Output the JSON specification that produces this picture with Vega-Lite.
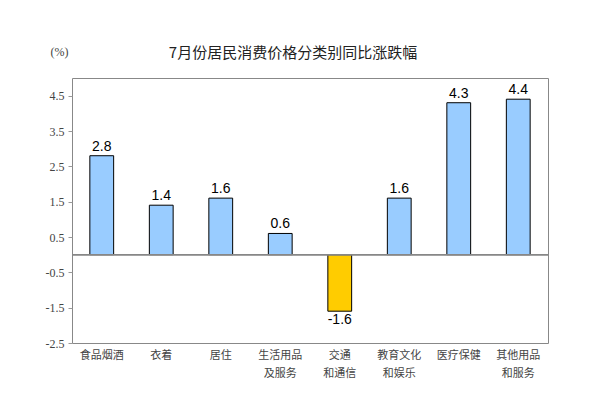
{
  "$schema": "https://vega.github.io/schema/vega-lite/v6.json",
  "width": 476,
  "height": 265,
  "autosize": {"type": "none"},
  "padding": {"left": 72, "top": 78, "right": 52, "bottom": 54},
  "background": "white",
  "title": {
    "text": "7月份居民消费价格分类别同比涨跌幅",
    "anchor": "middle",
    "dx": -17,
    "offset": -16,
    "fontSize": 15,
    "fontWeight": "normal",
    "font": "Noto Sans CJK SC",
    "color": "#222"
  },
  "config": {
    "view": {"stroke": "#888", "strokeWidth": 1}
  },
  "data": {
    "values": [
      {"cat": "食品烟酒", "v": 2.8},
      {"cat": "衣着", "v": 1.4},
      {"cat": "居住", "v": 1.6},
      {"cat": "生活用品|及服务", "v": 0.6},
      {"cat": "交通|和通信", "v": -1.6},
      {"cat": "教育文化|和娱乐", "v": 1.6},
      {"cat": "医疗保健", "v": 4.3},
      {"cat": "其他用品|和服务", "v": 4.4}
    ]
  },
  "encoding": {
    "x": {
      "field": "cat",
      "type": "nominal",
      "sort": null,
      "scale": {"paddingInner": 0.6, "paddingOuter": 0.3},
      "axis": {
        "title": null,
        "labelAngle": 0,
        "domain": false,
        "ticks": false,
        "labelExpr": "split(datum.value, '|')",
        "labelFont": "Noto Sans CJK SC",
        "labelFontSize": 11,
        "labelColor": "#444",
        "labelPadding": 6,
        "labelLineHeight": 18
      }
    },
    "y": {
      "field": "v",
      "type": "quantitative",
      "scale": {"domain": [-2.5, 5], "nice": false, "zero": false},
      "axis": {
        "title": "(%)",
        "titleAngle": 0,
        "titleX": -4,
        "titleY": -20,
        "titleAlign": "right",
        "titleFont": "Liberation Serif",
        "titleFontSize": 12,
        "titleFontWeight": "normal",
        "titleColor": "#444",
        "values": [-2.5, -1.5, -0.5, 0.5, 1.5, 2.5, 3.5, 4.5],
        "labelExpr": "replace(format(datum.value, '.1f'), '\u2212', '-')",
        "grid": false,
        "domain": false,
        "tickSize": 4,
        "tickColor": "#999",
        "labelFont": "Liberation Serif",
        "labelFontSize": 12,
        "labelColor": "#444",
        "labelPadding": 4
      }
    }
  },
  "layer": [
    {
      "mark": {"type": "bar", "stroke": "black", "strokeWidth": 1},
      "encoding": {
        "color": {
          "condition": {"test": "datum.v < 0", "value": "#FFCC00"},
          "value": "#99CCFF"
        }
      }
    },
    {
      "mark": {"type": "rule", "color": "#888", "strokeWidth": 1},
      "encoding": {"y": {"datum": 0}, "x": null}
    },
    {
      "transform": [{"filter": "datum.v >= 0"}],
      "mark": {"type": "text", "font": "Liberation Sans", "fontSize": 14, "color": "black", "baseline": "bottom", "dy": -2},
      "encoding": {
        "text": {"field": "v", "type": "nominal"}
      }
    },
    {
      "transform": [{"filter": "datum.v < 0"}],
      "mark": {"type": "text", "font": "Liberation Sans", "fontSize": 14, "color": "black", "baseline": "top", "dy": 2},
      "encoding": {
        "text": {"field": "v", "type": "nominal"}
      }
    }
  ]
}
